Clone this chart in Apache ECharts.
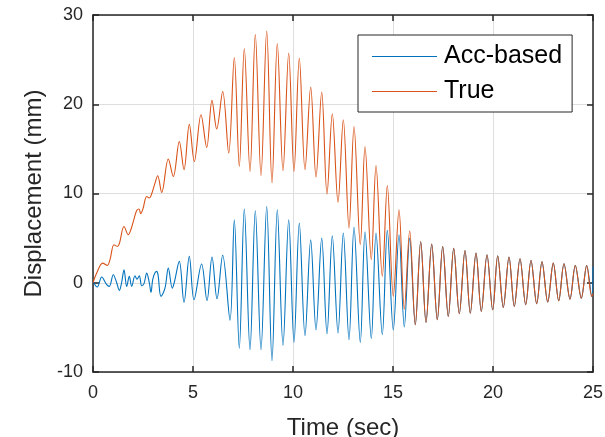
<!DOCTYPE html>
<html><head><meta charset="utf-8">
<script src="https://cdn.jsdelivr.net/npm/echarts@6/dist/echarts.min.js"></script>
<style>html,body{margin:0;padding:0;background:#fff}#c{width:605px;height:437px}</style>
</head><body><div id="c"></div>
<script>
// ---- data ----
const seriesNames = ['Acc-based', 'True'];
const xTickLabels = ['0', '5', '10', '15', '20', '25'];
const yTickLabels = ['-10', '0', '10', '20', '30'];

const timeTrue = [0.00,0.185,0.485,0.715,0.85,1.05,1.215,1.32,1.55,1.765,1.9,2.05,2.185,2.3,2.385,2.5,2.685,2.815,2.935,3.1,3.235,3.435,3.765,4.015,4.315,4.55,4.815,5.065,5.40,5.685,5.95,6.185,6.485,6.785,7.065,7.315,7.565,7.85,8.115,8.4,8.685,8.95,9.215,9.5,9.785,10.05,10.315,10.6,10.885,11.15,11.435,11.7,11.965,12.25,12.515,12.8,13.05,13.365,13.6,13.915,14.15,14.465,14.715,15.015,15.3,15.565,15.835,16.115,16.385,16.65,16.935,17.215,17.485,17.765,18.035,18.315,18.6,18.865,19.15,19.415,19.7,19.985,20.235,20.515,20.8,21.065,21.35,21.635,21.9,22.185,22.45,22.735,23.015,23.285,23.55,23.85,24.115,24.415,24.685,24.935,25.0];
const dispTrue = [0.0,1.08,2.2,1.94,2.6,4.26,4.07,4.4,6.31,5.38,6.0,7.13,8.1,8.26,7.73,8.3,9.67,9.49,9.97,11.17,11.99,10.12,13.86,11.91,15.83,12.66,17.74,13.59,18.82,15.16,20.43,17.22,21.43,14.53,25.24,13.03,26.25,12.47,27.82,12.02,28.20,11.20,26.81,12.55,25.74,12.44,25.18,12.66,21.93,11.84,21.37,9.94,18.94,9.00,18.26,6.13,17.51,4.26,15.27,2.58,13.14,0.71,10.90,-1.54,8.18,-2.95,5.83,-4.71,4.63,-4.44,4.33,-4.15,4.07,-3.77,3.85,-3.47,3.62,-3.40,3.32,-3.21,3.14,-3.03,3.03,-2.76,2.88,-2.65,2.69,-2.46,2.50,-2.35,2.35,-2.16,2.20,-2.02,2.13,-1.83,1.94,-1.72,1.94,-1.54,-1.2];

const timeAcc = [0.0,0.215,0.435,0.685,0.815,1.015,1.185,1.315,1.43,1.55,1.685,1.815,1.935,2.1,2.2,2.315,2.435,2.55,2.685,2.815,2.9,3.0,3.185,3.25,3.4,3.6,3.765,3.965,4.06,4.315,4.55,4.815,5.05,5.43,5.7,5.95,6.2,6.485,6.85,7.065,7.315,7.565,7.85,8.115,8.4,8.685,8.95,9.215,9.5,9.785,10.05,10.315,10.6,10.885,11.15,11.435,11.7,11.965,12.25,12.515,12.8,13.05,13.365,13.6,13.915,14.15,14.465,14.715,15.015,15.3,15.565,15.835,16.115,16.385,16.65,16.935,17.215,17.485,17.765,18.035,18.315,18.6,18.865,19.15,19.415,19.7,19.985,20.235,20.515,20.8,21.065,21.35,21.635,21.9,22.185,22.45,22.735,23.015,23.285,23.55,23.85,24.115,24.415,24.685,24.935,25.0];
const dispAcc = [0.15,-0.48,0.64,-0.22,-0.41,0.9,0.0,-0.86,0.0,1.46,-0.41,0.71,-0.41,0.78,0.4,0.78,-0.34,-0.1,1.08,0.0,-1.08,0.5,1.27,0.9,-1.53,-0.6,1.64,-0.6,0.0,2.39,-2.2,2.95,-1.9,2.1,-2.0,2.88,-1.8,3.08,-4.2,7.06,-7.32,8.26,-7.5,8.07,-7.5,8.55,-8.74,8.18,-7.02,7.06,-6.69,6.69,-5.94,4.8,-5.27,5.0,-5.71,5.27,-5.64,5.57,-6.39,6.24,-6.69,5.71,-6.27,5.57,-5.83,5.87,-5.3,5.38,-4.95,5.0,-4.71,4.63,-4.44,4.33,-4.15,4.07,-3.77,3.85,-3.47,3.62,-3.40,3.32,-3.21,3.14,-3.03,3.03,-2.76,2.88,-2.65,2.69,-2.46,2.50,-2.35,2.35,-2.16,2.20,-2.02,2.13,-1.83,1.94,-1.72,1.94,-1.54,1.8];

// ---- chart ----
const FONT = '"Liberation Sans", Arial, Helvetica, sans-serif';
const AXC = '#262626';
const pairs = (t, v) => t.map((x, i) => [x, v[i]]);
const xFmt = v => { const i = [0,5,10,15,20,25].indexOf(v); return i >= 0 ? xTickLabels[i] : ''; };
const yFmt = v => { const i = [-10,0,10,20,30].indexOf(v); return i >= 0 ? yTickLabels[i] : ''; };

const axisBase = (show) => ({
  type: 'value',
  axisLine: { show: true, onZero: false, lineStyle: { color: AXC, width: 1.5 } },
  axisTick: { show: true, inside: true, length: 6, lineStyle: { color: AXC, width: 1.5 } },
  axisLabel: { show: show, color: AXC, fontSize: 18, fontFamily: FONT, margin: 10 },
  splitLine: { show: show, lineStyle: { color: '#dedede', width: 1 } }
});

const chart = echarts.init(document.getElementById('c'), null, { renderer: 'canvas' });
chart.setOption({
  animation: false,
  backgroundColor: '#fff',
  grid: { left: 93, right: 12, top: 15, bottom: 65, containLabel: false, outerBoundsMode: 'none' },
  legend: {
    orient: 'vertical', left: 358, top: 35,
    padding: [9, 10, 8, 14], itemGap: 10, itemWidth: 65, itemHeight: 1.2,
    icon: 'rect',
    borderColor: AXC, borderWidth: 1, backgroundColor: '#fff',
    textStyle: { fontSize: 25, color: '#000', fontFamily: FONT, padding: [0, 0, 0, 2] },
    data: seriesNames
  },
  xAxis: [
    Object.assign(axisBase(true), { min: 0, max: 25, interval: 5, position: 'bottom',
      axisLabel: { color: AXC, fontSize: 18, fontFamily: FONT, margin: 12, formatter: xFmt },
      name: 'Time (sec)', nameLocation: 'middle', nameGap: 44,
      nameTextStyle: { fontSize: 24, color: AXC, fontFamily: FONT } }),
    Object.assign(axisBase(false), { min: 0, max: 25, interval: 5, position: 'top' })
  ],
  yAxis: [
    Object.assign(axisBase(true), { min: -10, max: 30, interval: 10, position: 'left',
      axisLabel: { color: AXC, fontSize: 18, fontFamily: FONT, margin: 10, formatter: yFmt },
      name: 'Displacement (mm)', nameLocation: 'middle', nameGap: 47,
      nameTextStyle: { fontSize: 24, color: AXC, fontFamily: FONT } }),
    Object.assign(axisBase(false), { min: -10, max: 30, interval: 10, position: 'right' })
  ],
  series: [
    { name: seriesNames[0], type: 'line', data: pairs(timeAcc, dispAcc), showSymbol: false, symbol: 'none',
      smooth: 0.35, lineStyle: { color: '#0072BD', width: 1.1 }, itemStyle: { color: '#0072BD' } },
    { name: seriesNames[1], type: 'line', data: pairs(timeTrue, dispTrue), showSymbol: false, symbol: 'none',
      smooth: 0.35, lineStyle: { color: '#D95319', width: 1.1 }, itemStyle: { color: '#D95319' } }
  ]
});
</script></body></html>
